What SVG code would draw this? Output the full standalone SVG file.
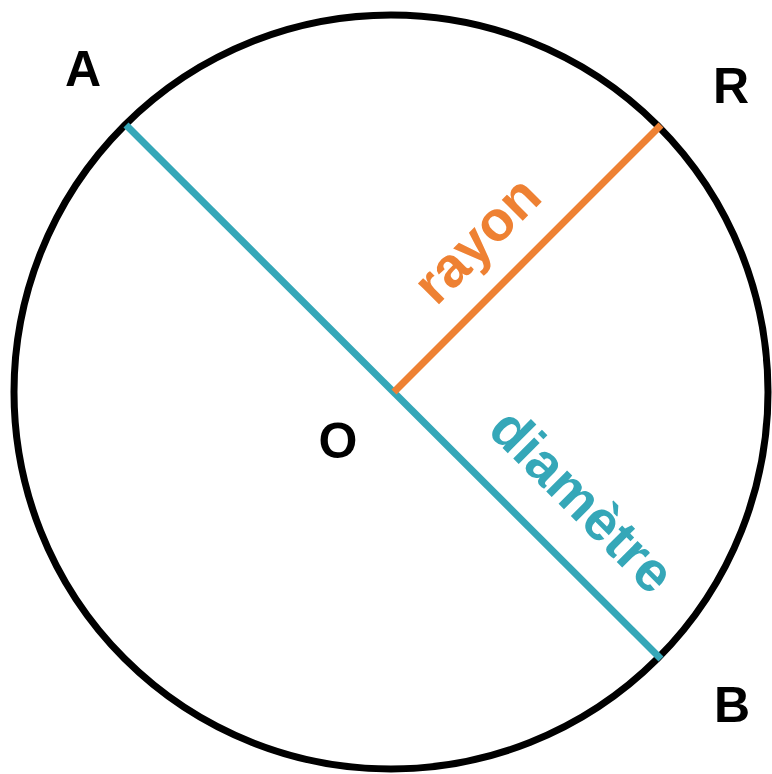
<svg xmlns="http://www.w3.org/2000/svg" width="772" height="774" viewBox="0 0 772 774">
<style>
.lbl{font-family:"Liberation Sans",Arial,sans-serif;font-weight:bold;font-size:50px;text-anchor:middle}
.edge{font-size:56px}
.pt{fill:#000}
</style>
<rect width="772" height="774" fill="#fff"/>
<g id="circle"><circle cx="391" cy="392" r="377" fill="none" stroke="#000" stroke-width="7"/></g>
<g id="connectors">
<line id="diametre" x1="126" y1="125" x2="661" y2="659" stroke="#35A7B8" stroke-width="7"/>
<line id="rayon" x1="394" y1="392" x2="661" y2="125" stroke="#EE8133" stroke-width="7"/>
</g>
<g id="A"><text class="lbl pt" x="83" y="86">A</text></g>
<g id="R"><text class="lbl pt" x="731" y="103">R</text></g>
<g id="O"><text class="lbl pt" x="338" y="458">O</text></g>
<g id="B"><text class="lbl pt" x="732" y="722">B</text></g>
<g id="rayon-label"><text class="lbl edge" fill="#EE8133" transform="translate(481,244) rotate(-45)" y="13">rayon</text></g>
<g id="diametre-label"><text class="lbl edge" fill="#35A7B8" transform="translate(578,505) rotate(45)" y="13">diamètre</text></g>
</svg>
